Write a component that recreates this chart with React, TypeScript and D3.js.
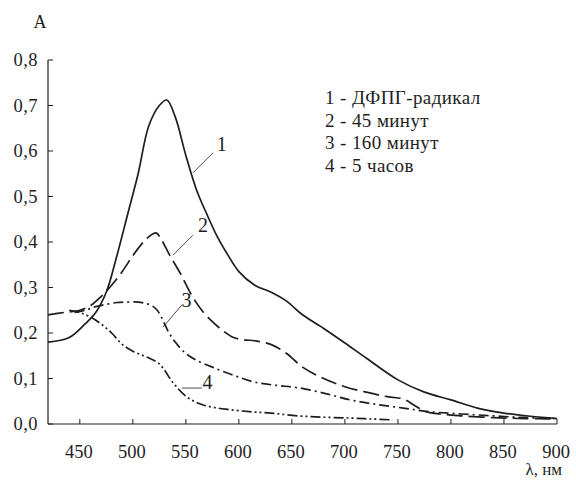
import React from "react";
import * as d3 from "d3";

const wl1 = [420,440,455,465,475,485,495,505,515,525,532,540,550,560,570,580,590,600,615,630,645,660,680,700,720,750,775,800,825,850,875,900];
const a1 = [0.18,0.19,0.22,0.245,0.29,0.37,0.46,0.55,0.655,0.70,0.712,0.675,0.59,0.515,0.46,0.41,0.37,0.335,0.305,0.29,0.27,0.24,0.21,0.178,0.145,0.097,0.07,0.053,0.035,0.024,0.017,0.012];

const wl2 = [420,435,450,460,470,480,490,500,510,517,522,527,535,545,555,565,575,585,595,605,615,630,645,660,680,700,720,740,755,765,775,790,810,840,870,900];
const a2 = [0.24,0.245,0.25,0.26,0.28,0.305,0.335,0.37,0.40,0.415,0.42,0.405,0.37,0.33,0.285,0.25,0.225,0.205,0.19,0.185,0.183,0.175,0.155,0.125,0.10,0.082,0.07,0.06,0.055,0.042,0.028,0.022,0.018,0.014,0.012,0.011];

const wl3 = [445,455,465,475,485,495,505,512,518,523,528,533,540,550,560,575,595,615,635,655,680,705,730,755,780,810,840,870,900];
const a3 = [0.245,0.25,0.258,0.263,0.267,0.268,0.268,0.265,0.26,0.25,0.23,0.205,0.18,0.155,0.14,0.125,0.107,0.092,0.085,0.08,0.068,0.053,0.043,0.035,0.027,0.022,0.018,0.014,0.012];

const wl4 = [440,450,460,470,480,490,500,510,518,525,530,535,540,548,556,565,575,590,610,630,655,680,705,725,745];
const a4 = [0.25,0.245,0.235,0.22,0.2,0.175,0.16,0.15,0.142,0.132,0.118,0.1,0.085,0.065,0.052,0.043,0.037,0.032,0.027,0.024,0.018,0.015,0.013,0.011,0.009];

const xTicks = [450,500,550,600,650,700,750,800,850,900];
const yTicks = [0,0.1,0.2,0.3,0.4,0.5,0.6,0.7,0.8];
const legendLabels = ["1 - ДФПГ-радикал","2 - 45 минут","3 - 160 минут","4 - 5 часов"];

// curve-number callouts: label, leader start (λ, A) on the curve, leader end (λ, A), text anchor (λ, A)
const calloutLabels = ["1", "2", "3", "4"];
const calloutStart: [number, number][] = [[556.7, 0.552], [537.9, 0.371], [528.4, 0.213], [546.4, 0.079]];
const calloutEnd: [number, number][] = [[575.6, 0.596], [556.7, 0.415], [546.4, 0.262], [565.2, 0.079]];
const calloutText: [number, number][] = [[579.2, 0.6], [561.4, 0.422], [546.0, 0.257], [565.6, 0.077]];

const series = [
  { wl: wl1, a: a1, dash: "" },
  { wl: wl2, a: a2, dash: "16,6" },
  { wl: wl3, a: a3, dash: "10,4,2,4" },
  { wl: wl4, a: a4, dash: "10,3,2,3,2,3" },
];

export default function App() {
  const x = d3.scaleLinear().domain([420, 900]).range([48, 557]);
  const y = d3.scaleLinear().domain([0, 0.8]).range([424, 60]);
  const font = '"Liberation Serif", serif';
  const ink = "#1e1e1e";
  const line = d3
    .line<[number, number]>()
    .x((d) => x(d[0]))
    .y((d) => y(d[1]))
    .curve(d3.curveCatmullRom.alpha(0.5));
  return (
    <svg width={576} height={480} style={{ position: "absolute", left: 0, top: 0, background: "#fff", fontFamily: font }}>
      <rect width={576} height={480} fill="#fff" />
      <line x1={x(420)} x2={x(420)} y1={y(0)} y2={y(0.8)} stroke={ink} strokeWidth={1.2} />
      <line x1={x(420)} x2={x(900)} y1={y(0)} y2={y(0)} stroke={ink} strokeWidth={1.2} />
      {yTicks.map((t) => (
        <g key={"y" + t}>
          <line x1={x(420)} x2={x(420) + 5} y1={y(t)} y2={y(t)} stroke={ink} strokeWidth={1} />
          <text x={38} y={y(t) + 6} textAnchor="end" fontSize={18.5} letterSpacing={0.5} fill={ink} style={{ fontFamily: font }}>
            {t.toFixed(1).replace(".", ",")}
          </text>
        </g>
      ))}
      {xTicks.map((t) => (
        <g key={"x" + t}>
          <line x1={x(t)} x2={x(t)} y1={y(0)} y2={y(0) - 5} stroke={ink} strokeWidth={1} />
          <text x={x(t) - 1} y={458} textAnchor="middle" fontSize={18.5} fill={ink} style={{ fontFamily: font }}>
            {t}
          </text>
        </g>
      ))}
      <text x={40} y={28} textAnchor="middle" fontSize={18} fill={ink} style={{ fontFamily: font }}>A</text>
      <text x={562} y={475} textAnchor="end" fontSize={17} fill={ink} style={{ fontFamily: font }}>λ, нм</text>
      {series.map((s, i) => (
        <path
          key={i}
          d={line(s.wl.map((w, j) => [w, s.a[j]] as [number, number])) || ""}
          fill="none"
          stroke={ink}
          strokeWidth={1.7}
          strokeDasharray={s.dash || undefined}
        />
      ))}
      {calloutLabels.map((lab, i) => (
        <g key={"an" + lab}>
          <line x1={x(calloutStart[i][0])} y1={y(calloutStart[i][1])} x2={x(calloutEnd[i][0])} y2={y(calloutEnd[i][1])} stroke={ink} strokeWidth={0.8} />
          <text x={x(calloutText[i][0])} y={y(calloutText[i][1])} fontSize={20} fill={ink} style={{ fontFamily: font }}>{lab}</text>
        </g>
      ))}
      {legendLabels.map((l, i) => (
        <text key={l} x={325} y={104 + i * 22.5} fontSize={19} letterSpacing={0.4} fill={ink} style={{ fontFamily: font }}>{l}</text>
      ))}
    </svg>
  );
}
